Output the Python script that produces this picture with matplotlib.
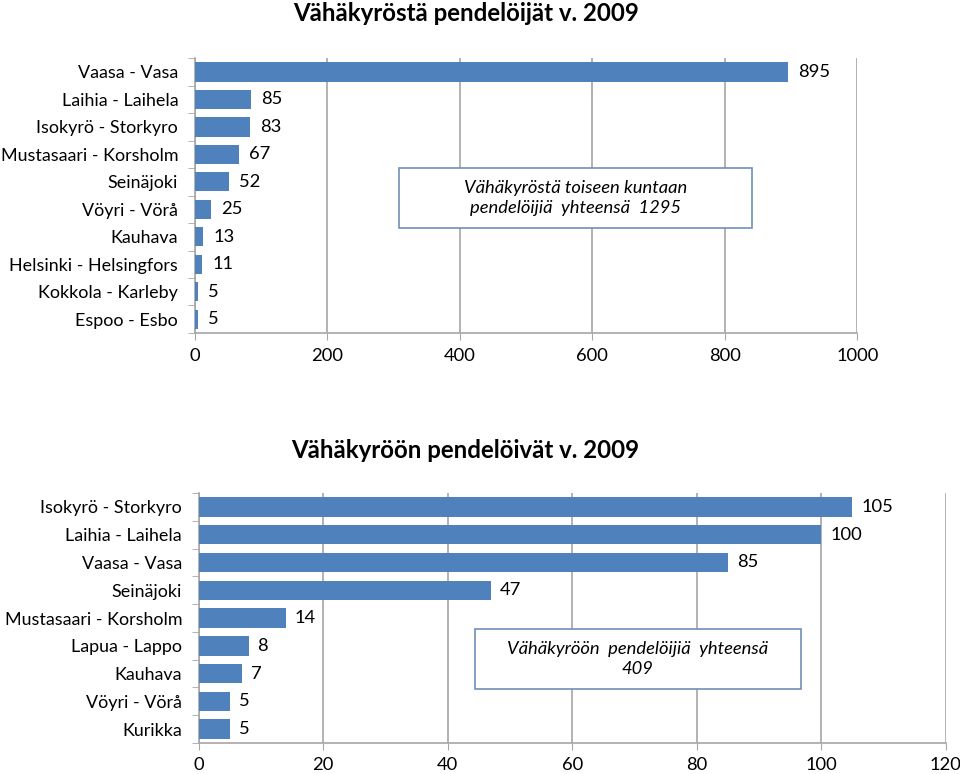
import numpy as np
import matplotlib
matplotlib.use("Agg")
import matplotlib.pyplot as plt
from matplotlib.patches import Rectangle

# ---------------------------
# Datos
# ---------------------------
lahto_kunnat = ["Vaasa - Vasa", "Laihia - Laihela", "Isokyrö - Storkyro",
                "Mustasaari - Korsholm", "Seinäjoki", "Vöyri - Vörå", "Kauhava",
                "Helsinki - Helsingfors", "Kokkola - Karleby", "Espoo - Esbo"]
lahto_arvot = [895, 85, 83, 67, 52, 25, 13, 11, 5, 5]

tulo_kunnat = ["Isokyrö - Storkyro", "Laihia - Laihela", "Vaasa - Vasa", "Seinäjoki",
               "Mustasaari - Korsholm", "Lapua - Lappo", "Kauhava", "Vöyri - Vörå", "Kurikka"]
tulo_arvot = [105, 100, 85, 47, 14, 8, 7, 5, 5]

lahto_ticks = [0, 200, 400, 600, 800, 1000]
tulo_ticks = [0, 20, 40, 60, 80, 100, 120]

otsikko1 = "Vähäkyröstä pendelöijät v. 2009"
otsikko2 = "Vähäkyröön pendelöivät v. 2009"
laatikko1 = "Vähäkyröstä toiseen kuntaan\npendelöijiä  yhteensä  1295"
laatikko2 = "Vähäkyröön  pendelöijiä  yhteensä\n409"

# ---------------------------
# Estilo
# ---------------------------
plt.rcParams['font.family'] = ['Lato', 'DejaVu Sans']
BLUE = "#4F81BD"
GRID = "#A6A6A6"
FS = 13.2
FS_Y = 12.9

fig = plt.figure(figsize=(9.6, 7.74), dpi=100)
ax1 = fig.add_axes([0.203, 0.5698, 0.690, 0.355])
ax2 = fig.add_axes([0.207, 0.040, 0.778, 0.323])


def dibuja(ax, cats, vals, ticks, offset_px, xpad):
    y = np.arange(len(cats))
    ax.barh(y, vals, height=0.7, color=BLUE, zorder=3)
    ax.set_ylim(len(cats) - 0.5, -0.5)
    ax.set_xlim(ticks[0], ticks[-1])
    ax.set_xticks(ticks)
    ax.set_xticklabels([str(t) for t in ticks], fontsize=FS)
    ax.set_yticks(y)
    ax.set_yticklabels(cats, fontsize=FS_Y)
    ax.set_yticks(np.arange(len(cats) + 1) - 0.5, minor=True)
    ax.tick_params(axis='y', which='major', length=0, pad=12)
    ax.tick_params(axis='y', which='minor', length=5, color=GRID)
    ax.tick_params(axis='x', length=5, color=GRID, pad=xpad)
    ax.grid(axis='x', color=GRID, linewidth=1.2, zorder=0)
    for s in ("top", "right"):
        ax.spines[s].set_visible(False)
    for s in ("left", "bottom"):
        ax.spines[s].set_color(GRID)
        ax.spines[s].set_linewidth(1.2)
    for yi, v in zip(y, vals):
        ax.annotate(str(v), (v, yi), xytext=(offset_px, 0), textcoords="offset pixels",
                    va="center", ha="left", fontsize=FS)


dibuja(ax1, lahto_kunnat, lahto_arvot, lahto_ticks, 10, 6)
dibuja(ax2, tulo_kunnat, tulo_arvot, tulo_ticks, 9, 5)

# Títulos
fig.text(0.485, 0.982, otsikko1, ha="center", va="center", fontsize=17.3, fontweight="bold")
fig.text(0.485, 0.418, otsikko2, ha="center", va="center", fontsize=17.3, fontweight="bold")

# Cuadros de texto
ax1.add_patch(Rectangle((0.308, 0.382), 0.533, 0.218, transform=ax1.transAxes,
                        facecolor="white", edgecolor="#7190B8", linewidth=1.2, zorder=5))
ax1.text(0.5745, 0.491, laatikko1, transform=ax1.transAxes, ha="center", va="center",
         fontsize=FS, style="italic", linespacing=1.35, zorder=6)

ax2.add_patch(Rectangle((0.3695, 0.216), 0.4375, 0.240, transform=ax2.transAxes,
                        facecolor="white", edgecolor="#7190B8", linewidth=1.2, zorder=5))
ax2.text(0.588, 0.336, laatikko2, transform=ax2.transAxes, ha="center", va="center",
         fontsize=FS, style="italic", linespacing=1.35, zorder=6)

fig.savefig("out.png", dpi=100)
